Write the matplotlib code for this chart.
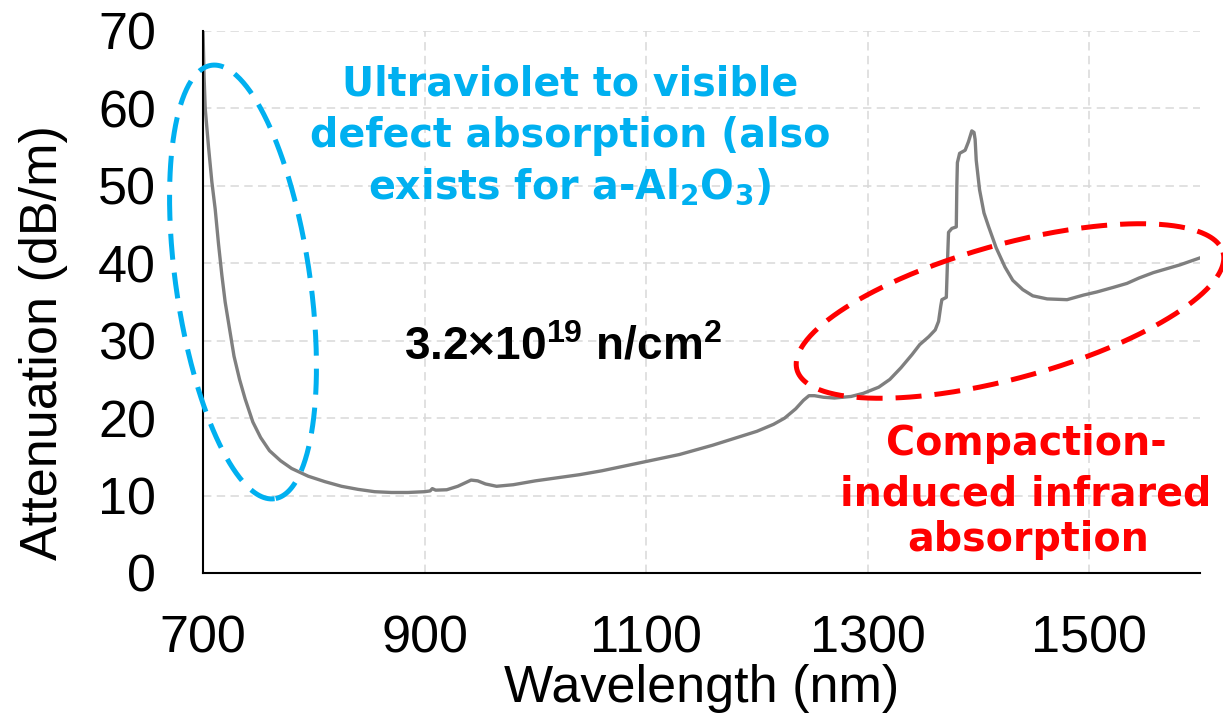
import numpy as np
import matplotlib
matplotlib.use("Agg")
import matplotlib.pyplot as plt

# Attenuation spectrum of the irradiated fibre (3.2e19 n/cm^2)
wavelength_nm = [
    700, 701, 702, 705, 708, 711, 714, 717, 720, 724, 728, 733, 738, 745, 752,
    760, 770, 780, 795, 810, 825, 840, 855, 870, 885, 900, 905, 907, 910, 920,
    930, 942, 948, 955, 965, 980, 1000, 1020, 1040, 1060, 1080, 1100, 1130,
    1160, 1180, 1200, 1215, 1225, 1235, 1242, 1247, 1252, 1260, 1270, 1285,
    1296, 1310, 1320, 1330, 1340, 1347, 1355, 1361, 1364, 1366, 1367, 1371,
    1372, 1373, 1376, 1380, 1380.5, 1381, 1383, 1388, 1391, 1394, 1396, 1397,
    1398, 1401, 1405, 1409, 1416, 1424, 1431, 1440, 1449, 1462, 1480, 1495,
    1507, 1522, 1534, 1545, 1558, 1570, 1582, 1600,
]
attenuation_db_m = [
    70.0, 64.0, 60.0, 55.0, 50.5, 47.0, 42.5, 38.5, 35.0, 31.5, 28.0, 25.0,
    22.5, 19.5, 17.5, 15.8, 14.5, 13.5, 12.5, 11.8, 11.2, 10.8, 10.5, 10.4,
    10.4, 10.5, 10.6, 10.9, 10.7, 10.75, 11.2, 12.0, 11.9, 11.5, 11.2, 11.4,
    11.9, 12.3, 12.7, 13.2, 13.8, 14.4, 15.3, 16.5, 17.4, 18.3, 19.2, 20.0,
    21.2, 22.3, 22.9, 22.9, 22.7, 22.6, 22.8, 23.2, 24.0, 25.0, 26.5, 28.2,
    29.5, 30.5, 31.4, 32.5, 34.5, 35.3, 35.6, 40.0, 44.0, 44.5, 44.7, 50.0,
    53.0, 54.2, 54.6, 55.7, 57.1, 56.9, 56.0, 53.3, 49.5, 46.5, 44.8, 42.0,
    39.5, 37.8, 36.6, 35.8, 35.4, 35.3, 35.9, 36.3, 36.9, 37.4, 38.1, 38.8,
    39.3, 39.8, 40.7,
]

x_ticks = [700, 900, 1100, 1300, 1500]
y_ticks = [0, 10, 20, 30, 40, 50, 60, 70]

W, H = 1223, 716
BLUE = "#00B0F0"
RED = "#FF0000"
GREY = "#7F7F7F"

plt.rcParams["font.family"] = ["Liberation Sans", "DejaVu Sans"]
plt.rcParams["mathtext.fontset"] = "custom"
plt.rcParams["mathtext.bf"] = "Liberation Sans:bold"
plt.rcParams["mathtext.rm"] = "Liberation Sans:bold"

fig = plt.figure(figsize=(W / 100, H / 100), dpi=100)
ax = fig.add_axes([203 / W, (H - 573) / H, 997 / W, 542 / H])

ax.plot(wavelength_nm, attenuation_db_m, color=GREY, lw=2.4,
        solid_joinstyle="round", zorder=3)

ax.set_xlim(700, 1600)
ax.set_ylim(0, 70)
ax.set_xticks(x_ticks)
ax.set_yticks(y_ticks)
ax.grid(True, color="#D9D9D9", lw=1.1, linestyle=(0, (5.5, 3.5)), zorder=0)
ax.set_axisbelow(True)

for side in ("top", "right"):
    ax.spines[side].set_visible(False)
for side in ("left", "bottom"):
    ax.spines[side].set_color("black")
    ax.spines[side].set_linewidth(1.5)
    ax.spines[side].set_zorder(4)

ax.tick_params(axis="both", length=0, labelsize=37.5, colors="black")
ax.tick_params(axis="x", pad=30)
ax.tick_params(axis="y", pad=34)

ax.set_xlabel("Wavelength (nm)", fontsize=37.5)
ax.set_ylabel("Attenuation (dB/m)", fontsize=37.5)
ax.xaxis.set_label_coords(0.5, -0.168)
ax.yaxis.set_label_coords(-0.1354, 0.426)

# Annotation layer in pixel coordinates (y downwards)
over = fig.add_axes([0, 0, 1, 1], facecolor="none")
over.set_xlim(0, W)
over.set_ylim(H, 0)
over.axis("off")
over.set_zorder(5)


def dashed_ellipse(cx, cy, a, b, tilt_deg, color):
    t = np.linspace(0, 2 * np.pi, 400)
    th = np.deg2rad(tilt_deg)
    ux, uy = np.cos(th), -np.sin(th)
    vx, vy = np.sin(th), np.cos(th)
    px = cx + a * np.cos(t) * ux + b * np.sin(t) * vx
    py = cy + a * np.cos(t) * uy + b * np.sin(t) * vy
    over.plot(px, py, color=color, lw=3.6, linestyle=(0, (5.2, 2.6)),
              clip_on=False)


# UV/visible region: nearly upright, top leaning left
dashed_ellipse(243, 282, 219, 67, -81.7, BLUE)
# Infrared region: elongated, rising to the right
dashed_ellipse(1010, 311, 221, 67, 15.4, RED)

ann_font = dict(family="DejaVu Sans", fontweight="bold", fontsize=28.5,
                ha="center", va="baseline", math_fontfamily="dejavusans")

over.text(570, 95, "Ultraviolet to visible", color=BLUE, **ann_font)
over.text(570, 147, "defect absorption (also", color=BLUE, **ann_font)
over.text(570, 198, r"exists for a-Al$_\mathbf{2}$O$_\mathbf{3}$)",
          color=BLUE, **ann_font)

over.text(1026, 455, "Compaction-", color=RED, **ann_font)
over.text(1026, 505, "induced infrared", color=RED, **ann_font)
over.text(1028, 551, "absorption", color=RED, **ann_font)

over.text(563, 360, r"3.2×10$^{\mathbf{19}}$ n/cm$^{\mathbf{2}}$",
          color="black", fontsize=33, fontweight="bold", ha="center",
          va="baseline")

fig.savefig("out.png", dpi=100)
